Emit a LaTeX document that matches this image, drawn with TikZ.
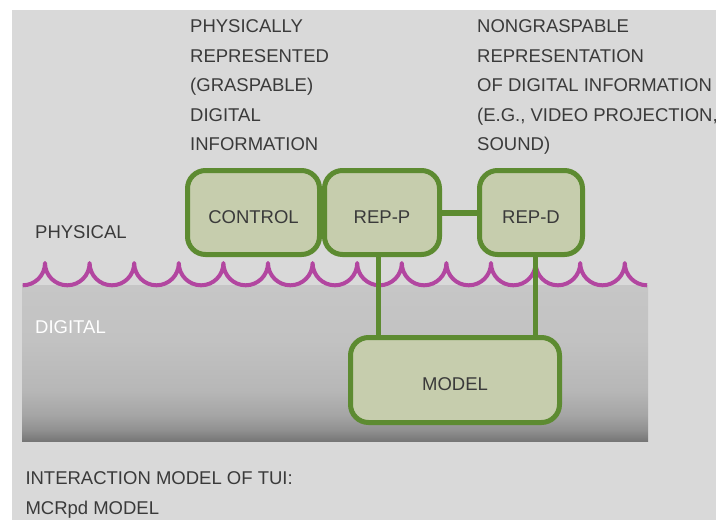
\documentclass[tikz,border=0pt]{standalone}
\usepackage{fontspec}
\setmainfont{Liberation Sans}
\definecolor{panelbg}{RGB}{217,217,217}
\definecolor{boxfill}{RGB}{198,205,173}
\definecolor{boxline}{RGB}{93,139,49}
\definecolor{wave}{RGB}{178,70,160}
\definecolor{txt}{RGB}{58,58,58}
\definecolor{g0}{RGB}{118,118,118}
\definecolor{g1}{RGB}{144,144,144}
\definecolor{g2}{RGB}{165,165,165}
\definecolor{g3}{RGB}{183,183,183}
\definecolor{g4}{RGB}{194,194,194}
\definecolor{g5}{RGB}{198,198,198}
\pgfdeclareverticalshading{digishade}{100bp}{color(0bp)=(g0); color(25bp)=(g0); color(28.5bp)=(g1); color(33.3bp)=(g2); color(41.3bp)=(g3); color(57.4bp)=(g4); color(75bp)=(g5); color(100bp)=(g5)}
\tikzset{
  lbl/.style={font=\fontsize{18.5}{29.5}\selectfont, text=txt, inner sep=0pt, align=left, anchor=north west},
  blk/.style={draw=boxline, fill=boxfill, line width=5pt, rounded corners=18pt, inner sep=0pt,
    minimum height=84pt, text height=21pt, text depth=0pt, text=txt, font=\fontsize{18.5}{22}\selectfont},
  link/.style={draw=boxline, line width=5pt},
  scallop/.style={draw=wave, line width=4pt, line join=round},
}
\begin{document}
\begin{tikzpicture}[x=1pt,y=-1pt]
\useasboundingbox (0,0) rectangle (716,520);
\fill[white] (0,0) rectangle (716,520);
\fill[panelbg] (12,10) rectangle (716,520);
\shade[shading=digishade] (22,285) rectangle (648,441);
\draw[scallop] (22.7,285.3) arc[start angle=90,end angle=0,radius=22.3]
  \foreach \i in {1,...,13} { arc[start angle=180,end angle=0,radius=22.3] }
  arc[start angle=180,end angle=90,radius=22.3];

\node[lbl] (physinfo) at (190,19.5) {PHYSICALLY\\REPRESENTED\\(GRASPABLE)\\DIGITAL\\INFORMATION};
\node[lbl] (nongrasp) at (477,19.5) {NONGRASPABLE\\REPRESENTATION\\OF DIGITAL INFORMATION\\(E.G., VIDEO PROJECTION,\\SOUND)};
\node[lbl] (physical) at (35,225) {PHYSICAL};
\node[lbl, text=white] (digital) at (35,320.5) {DIGITAL};
\node[lbl] (caption) at (25.3,471.5) {INTERACTION MODEL OF TUI:\\MCRpd MODEL};

\node[blk, minimum width=132pt] (control) at (253.5,212.5) {CONTROL};
\node[blk, minimum width=115pt] (repp) at (382,212.5) {REP-P};
\node[blk, minimum width=103pt] (repd) at (531,212.5) {REP-D};
\node[blk, minimum width=209pt, minimum height=85pt] (model) at (455,380) {MODEL};

\draw[link, line width=6pt] (repp.east) -- (repd.west);
\draw[link] ([xshift=-4pt]repp.south) -- ([xshift=-4pt]repp.south |- model.north);
\draw[link] ([xshift=4pt]repd.south) -- ([xshift=4pt]repd.south |- model.north);
\end{tikzpicture}
\end{document}
